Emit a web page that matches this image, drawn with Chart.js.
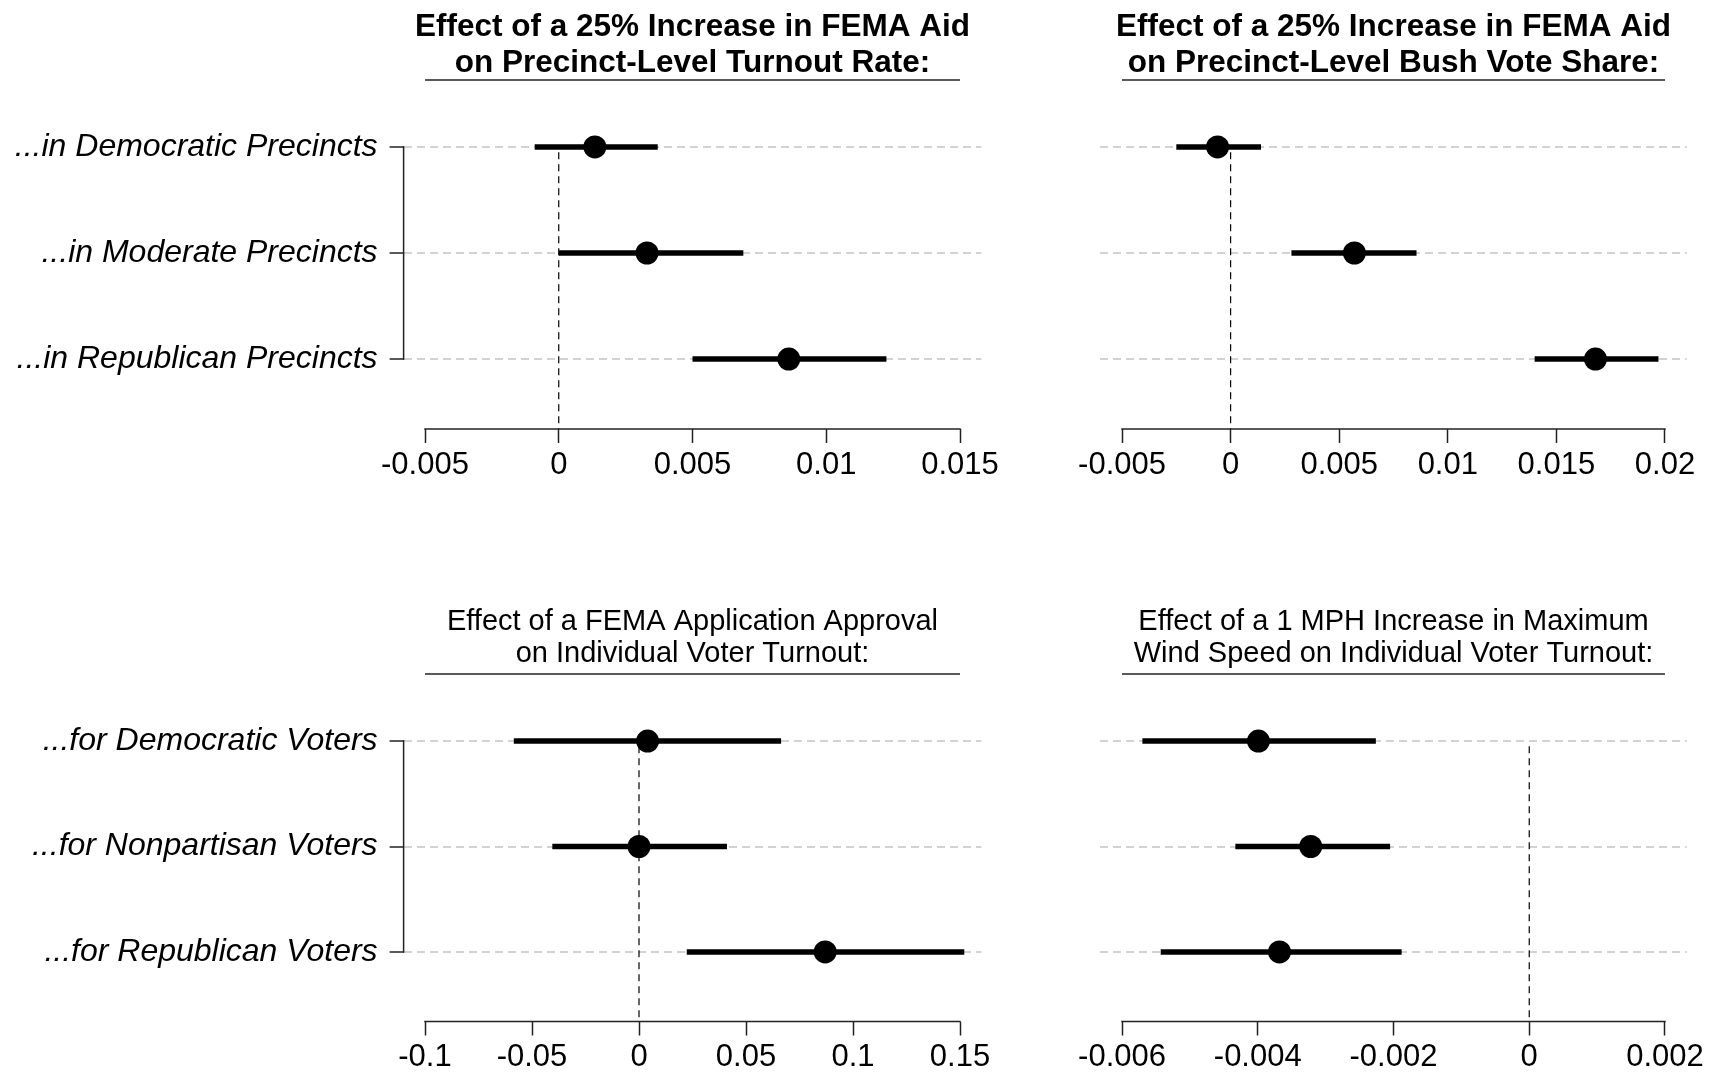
<!DOCTYPE html>
<html>
<head>
<meta charset="utf-8">
<script src="https://cdn.jsdelivr.net/npm/chart.js@4.4.1/dist/chart.umd.min.js"></script>
<style>
html,body{margin:0;padding:0;background:#fff;}
#wrap{position:relative;width:1713px;height:1073px;overflow:hidden;background:#fff;}
.panel{position:absolute;}
canvas{display:block;}
</style>
</head>
<body>
<div id="wrap">
  <div class="panel" style="left:0;top:0;width:1040px;height:536px"><canvas id="c1" width="1040" height="536"></canvas></div>
  <div class="panel" style="left:1040px;top:0;width:673px;height:536px"><canvas id="c2" width="673" height="536"></canvas></div>
  <div class="panel" style="left:0;top:536px;width:1040px;height:537px"><canvas id="c3" width="1040" height="537"></canvas></div>
  <div class="panel" style="left:1040px;top:536px;width:673px;height:537px"><canvas id="c4" width="673" height="537"></canvas></div>
</div>
<script>
// ---------- data ----------
const rowValues = [1, 2, 3];
const precinctLabels = ['...in Democratic Precincts', '...in Moderate Precincts', '...in Republican Precincts'];
const voterLabels = ['...for Democratic Voters', '...for Nonpartisan Voters', '...for Republican Voters'];

const turnoutTitle = ['Effect of a 25% Increase in FEMA Aid', 'on Precinct-Level Turnout Rate:'];
const turnoutEst  = [0.00135, 0.0033, 0.0086];
const turnoutLow  = [-0.0009, 0.0000, 0.0050];
const turnoutHigh = [0.0037, 0.0069, 0.01225];
const turnoutTicks = [-0.005, 0, 0.005, 0.01, 0.015];
const turnoutTickLabels = ['-0.005', '0', '0.005', '0.01', '0.015'];
const turnoutLimits = [-0.0058, 0.0158];

const bushTitle = ['Effect of a 25% Increase in FEMA Aid', 'on Precinct-Level Bush Vote Share:'];
const bushEst  = [-0.0006, 0.0057, 0.0168];
const bushLow  = [-0.0025, 0.0028, 0.0140];
const bushHigh = [0.0014, 0.00856, 0.0197];
const bushTicks = [-0.005, 0, 0.005, 0.01, 0.015, 0.02];
const bushTickLabels = ['-0.005', '0', '0.005', '0.01', '0.015', '0.02'];
const bushLimits = [-0.006, 0.021];

const approvalTitle = ['Effect of a FEMA Application Approval', 'on Individual Voter Turnout:'];
const approvalEst  = [0.004, 0.0, 0.087];
const approvalLow  = [-0.0585, -0.0405, 0.0223];
const approvalHigh = [0.0664, 0.0411, 0.152];
const approvalTicks = [-0.1, -0.05, 0, 0.05, 0.1, 0.15];
const approvalTickLabels = ['-0.1', '-0.05', '0', '0.05', '0.1', '0.15'];
const approvalLimits = [-0.11, 0.16];

const windTitle = ['Effect of a 1 MPH Increase in Maximum', 'Wind Speed on Individual Voter Turnout:'];
const windEst  = [-0.00399, -0.00322, -0.00368];
const windLow  = [-0.0057, -0.00433, -0.00543];
const windHigh = [-0.00226, -0.00205, -0.00188];
const windTicks = [-0.006, -0.004, -0.002, 0, 0.002];
const windTickLabels = ['-0.006', '-0.004', '-0.002', '0', '0.002'];
const windLimits = [-0.00632, 0.00232];

const yLimits = [0.34, 3.66];

// ---------- drawing ----------
const FONT = "'Liberation Sans', Arial, sans-serif";

const decorPlugin = {
  id: 'decor',
  afterDraw(chart, args, opts) {
    const {ctx, chartArea, scales} = chart;
    const x = scales.x, y = scales.y;
    const t = opts.tickValues;
    const x0 = x.getPixelForValue(t[0]);
    const x1 = x.getPixelForValue(t[t.length - 1]);
    ctx.save();
    ctx.strokeStyle = '#222';
    ctx.lineWidth = 1.5;
    ctx.beginPath();
    ctx.moveTo(x0 - 0.75, chartArea.bottom);
    ctx.lineTo(x1 + 0.75, chartArea.bottom);
    ctx.stroke();
    ctx.beginPath();
    ctx.moveTo(x0, chartArea.top + opts.underlineOffset);
    ctx.lineTo(x1, chartArea.top + opts.underlineOffset);
    ctx.stroke();
    if (opts.bracket) {
      const yt = y.getPixelForValue(rowValues[0]);
      const yb = y.getPixelForValue(rowValues[rowValues.length - 1]);
      ctx.beginPath();
      ctx.moveTo(chartArea.left, yt - 0.75);
      ctx.lineTo(chartArea.left, yb + 0.75);
      ctx.stroke();
    }
    ctx.restore();
  }
};

function makePanel(id, p) {
  const datasets = [];
  datasets.push({
    data: rowValues.map((r, i) => ({x: p.est[i], y: r})),
    showLine: false,
    pointRadius: 11.5,
    pointHoverRadius: 11.5,
    pointBackgroundColor: '#000',
    pointBorderColor: '#000',
    pointBorderWidth: 0,
    order: 0
  });
  rowValues.forEach((r, i) => {
    datasets.push({
      data: [{x: p.low[i], y: r}, {x: p.high[i], y: r}],
      showLine: true,
      borderColor: '#000',
      borderWidth: 5.5,
      pointRadius: 0,
      pointHoverRadius: 0,
      order: 1
    });
  });
  datasets.push({
    data: [{x: 0, y: rowValues[0] + 0.05}, {x: 0, y: yLimits[1]}],
    showLine: true,
    borderColor: '#000',
    borderWidth: 1.2,
    borderDash: [7, 5],
    pointRadius: 0,
    pointHoverRadius: 0,
    order: 2
  });

  const hasLabels = !!p.labels;
  return new Chart(document.getElementById(id), {
    type: 'scatter',
    data: {datasets},
    plugins: [decorPlugin],
    options: {
      responsive: false,
      maintainAspectRatio: false,
      devicePixelRatio: 1,
      animation: false,
      events: [],
      layout: {padding: {left: 0, right: p.padRight, top: 0, bottom: p.padBottom}},
      plugins: {
        legend: {display: false},
        tooltip: {enabled: false},
        title: {
          display: true,
          fullSize: false,
          text: p.title,
          color: '#000',
          align: 'center',
          font: {family: FONT, size: p.titleSize, weight: p.titleWeight, lineHeight: p.titleLH},
          padding: {top: p.titlePadTop, bottom: p.titlePadBottom}
        },
        decor: {tickValues: p.ticks, underlineOffset: p.underlineOffset, bracket: hasLabels}
      },
      scales: {
        x: {
          type: 'linear',
          position: 'bottom',
          min: p.limits[0],
          max: p.limits[1],
          afterBuildTicks: s => { s.ticks = p.ticks.map(v => ({value: v})); },
          afterFit: s => { s.height = p.xAxisHeight; s.paddingLeft = 0; s.paddingRight = 0; },
          grid: {display: true, drawOnChartArea: false, drawTicks: true, tickLength: 14, tickColor: '#222', tickWidth: 1.5},
          border: {display: false},
          ticks: {
            autoSkip: false, maxRotation: 0, minRotation: 0, padding: p.tickPad, color: '#000',
            font: {family: FONT, size: 31},
            callback: (v, i) => p.tickLabels[i]
          }
        },
        y: {
          type: 'linear',
          position: 'left',
          reverse: true,
          min: yLimits[0],
          max: yLimits[1],
          afterBuildTicks: s => { s.ticks = rowValues.map(v => ({value: v})); },
          afterFit: s => { s.width = p.yAxisWidth; s.paddingTop = 0; s.paddingBottom = 0; },
          grid: {display: true, drawOnChartArea: true, color: '#d2d2d2', lineWidth: 2,
                 drawTicks: hasLabels, tickLength: 14, tickColor: '#222', tickWidth: 1.5, tickBorderDash: []},
          border: {display: false, dash: [8, 5]},
          ticks: {
            display: hasLabels, padding: 12, color: '#000',
            font: {family: FONT, size: 32, style: 'italic'},
            callback: (v, i) => (hasLabels ? p.labels[i] : '')
          }
        }
      }
    }
  });
}

const topTitle = {titleSize: 31.5, titleWeight: 'bold', titleLH: 36 / 31.5, titlePadTop: 9.15, titlePadBottom: -4.15,
                  underlineOffset: 3, xAxisHeight: 60, padBottom: 47, tickPad: 4.3};
const botTitle = {titleSize: 29, titleWeight: 'normal', titleLH: 32.5 / 29, titlePadTop: 69.6, titlePadBottom: 0.9,
                  underlineOffset: 2.5, xAxisHeight: 50, padBottom: 1.5, tickPad: 3.4};

makePanel('c1', Object.assign({}, topTitle, {
  title: turnoutTitle, labels: precinctLabels, est: turnoutEst, low: turnoutLow, high: turnoutHigh,
  ticks: turnoutTicks, tickLabels: turnoutTickLabels, limits: turnoutLimits, yAxisWidth: 403.6, padRight: 58.6
}));
makePanel('c2', Object.assign({}, topTitle, {
  title: bushTitle, labels: null, est: bushEst, low: bushLow, high: bushHigh,
  ticks: bushTicks, tickLabels: bushTickLabels, limits: bushLimits, yAxisWidth: 60.3, padRight: 26.3
}));
makePanel('c3', Object.assign({}, botTitle, {
  title: approvalTitle, labels: voterLabels, est: approvalEst, low: approvalLow, high: approvalHigh,
  ticks: approvalTicks, tickLabels: approvalTickLabels, limits: approvalLimits, yAxisWidth: 403.6, padRight: 58.6
}));
makePanel('c4', Object.assign({}, botTitle, {
  title: windTitle, labels: null, est: windEst, low: windLow, high: windHigh,
  ticks: windTicks, tickLabels: windTickLabels, limits: windLimits, yAxisWidth: 60.3, padRight: 26.3
}));
</script>
</body>
</html>
